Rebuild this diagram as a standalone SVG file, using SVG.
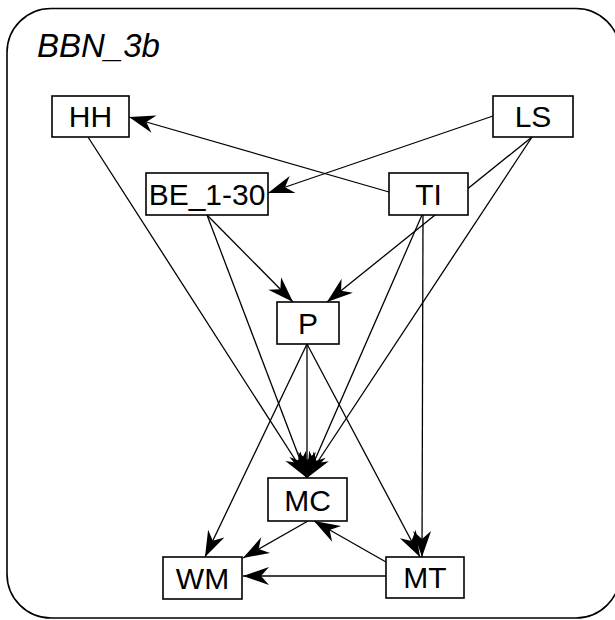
<svg xmlns="http://www.w3.org/2000/svg" width="615" height="620" viewBox="0 0 615 620">
<style>
.node rect{fill:#fff;stroke:#000;stroke-width:1.6}
.node text{font-family:"Liberation Sans",Arial,sans-serif;font-size:30px;text-anchor:middle;fill:#000}
.edges line{stroke:#000;stroke-width:1.3;marker-end:url(#ah)}
</style>
<defs>
<marker id="ah" markerUnits="userSpaceOnUse" markerWidth="32" markerHeight="22" viewBox="-28 -11 30 22" refX="0" refY="0" orient="auto">
<path d="M0,0 L-26,-9 L-18,0 L-26,9 Z" fill="#000"/>
</marker>
</defs>
<rect x="7" y="8.5" width="613" height="609.5" rx="44" ry="44" fill="#fff" stroke="#000" stroke-width="1.6"/>
<text x="37" y="57" font-family="'Liberation Sans',Arial,sans-serif" font-size="33" font-style="italic" fill="#000">BBN_3b</text>
<g class="edges" id="edges">
<line x1="389" y1="192" x2="129" y2="117"/>
<line x1="493" y1="116" x2="268" y2="193"/>
<line x1="532" y1="137" x2="327" y2="302"/>
<line x1="532" y1="137" x2="307" y2="478"/>
<line x1="88" y1="137" x2="307" y2="478"/>
<line x1="207" y1="215" x2="307" y2="478"/>
<line x1="207" y1="215" x2="293" y2="302"/>
<line x1="422" y1="215" x2="307" y2="478"/>
<line x1="423" y1="215" x2="422" y2="557"/>
<line x1="307" y1="344" x2="307" y2="478"/>
<line x1="307" y1="344" x2="205" y2="557"/>
<line x1="307" y1="344" x2="420" y2="557"/>
<line x1="308" y1="521" x2="243" y2="558"/>
<line x1="386" y1="562" x2="314" y2="521"/>
<line x1="386" y1="576" x2="243" y2="576"/>
</g>
<g class="node" id="HH"><rect x="52" y="96" width="77" height="41"/><text x="90.5" y="127">HH</text></g>
<g class="node" id="LS"><rect x="493" y="96" width="80" height="41"/><text x="533" y="127">LS</text></g>
<g class="node" id="BE_1-30"><rect x="146" y="173" width="122" height="42"/><text x="207" y="205">BE_1-30</text></g>
<g class="node" id="TI"><rect x="389" y="173" width="79" height="42"/><text x="428.5" y="205">TI</text></g>
<g class="node" id="P"><rect x="277" y="302" width="62" height="42"/><text x="308" y="334">P</text></g>
<g class="node" id="MC"><rect x="268" y="478" width="79" height="43"/><text x="307.5" y="510.5">MC</text></g>
<g class="node" id="WM"><rect x="163" y="557" width="79" height="42"/><text x="202.5" y="589">WM</text></g>
<g class="node" id="MT"><rect x="386" y="557" width="78" height="41"/><text x="425" y="588">MT</text></g>
</svg>
